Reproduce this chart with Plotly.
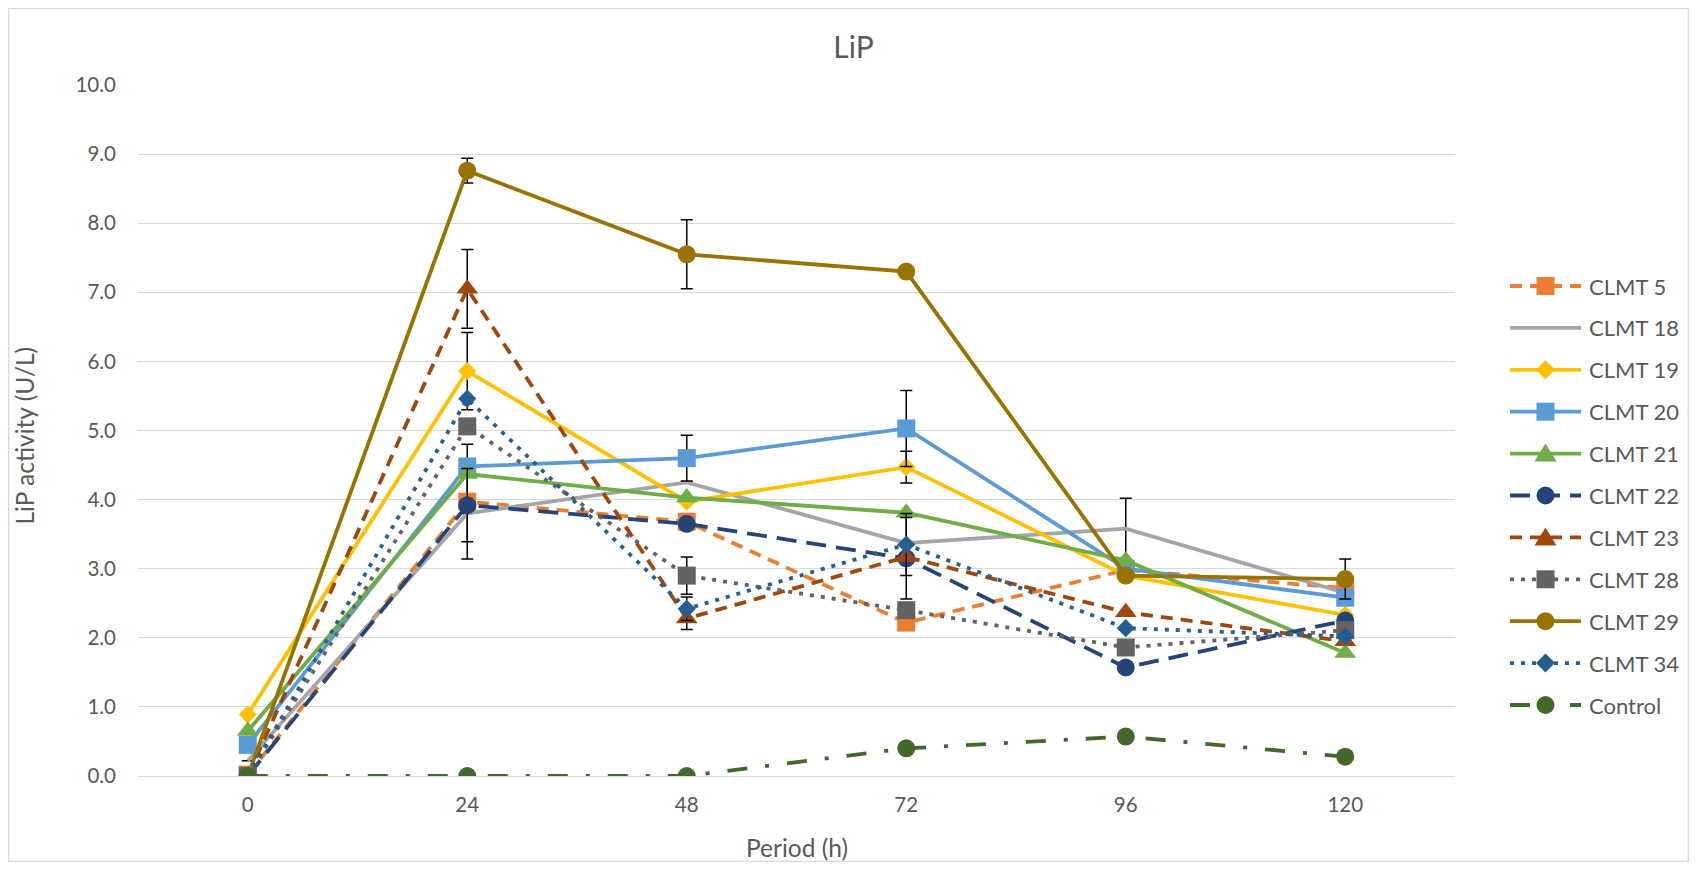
import plotly.graph_objects as go

periods = [0, 24, 48, 72, 96, 120]
period_labels = ["0", "24", "48", "72", "96", "120"]

clmt5 = [0.02, 3.97, 3.68, 2.22, 2.98, 2.72]
clmt18 = [0.22, 3.80, 4.25, 3.37, 3.58, 2.65]
clmt19 = [0.89, 5.86, 3.97, 4.47, 2.90, 2.33]
clmt20 = [0.45, 4.48, 4.60, 5.03, 3.00, 2.58]
clmt21 = [0.65, 4.37, 4.03, 3.81, 3.12, 1.78]
clmt22 = [0.00, 3.92, 3.65, 3.15, 1.57, 2.25]
clmt23 = [0.00, 7.05, 2.28, 3.17, 2.37, 1.95]
clmt28 = [0.00, 5.06, 2.90, 2.40, 1.86, 2.11]
clmt29 = [0.00, 8.76, 7.55, 7.30, 2.90, 2.85]
clmt34 = [0.00, 5.46, 2.42, 3.35, 2.14, 2.02]
control = [0.00, 0.00, 0.00, 0.40, 0.57, 0.28]

err5 = [0, 0.83, 0, 0, 0, 0]
err18 = [0, 0, 0, 0, 0.44, 0]
err19 = [0, 0.56, 0, 0.23, 0, 0]
err20 = [0, 0, 0.33, 0.55, 0, 0]
err21 = [0, 0, 0, 0, 0, 0]
err22 = [0, 0.53, 0, 0.59, 0, 0]
err23 = [0, 0.57, 0.16, 0, 0, 0]
err28 = [0, 0, 0.27, 0, 0, 0]
err29 = [0, 0.18, 0.50, 0, 0, 0.29]
err34 = [0, 0, 0.17, 0.45, 0, 0]
errc = [0, 0, 0, 0, 0, 0]

DASH = "12px,8px"
LONGDASH = "20px,10px"
DOT = "4px,7px"
LONGDASHDOT = "20px,18px,4px,18px"

series = [
    ("CLMT 5", clmt5, err5, "#ED7D31", DASH, "square"),
    ("CLMT 18", clmt18, err18, "#A5A5A5", "solid", None),
    ("CLMT 19", clmt19, err19, "#FFC000", "solid", "diamond"),
    ("CLMT 20", clmt20, err20, "#5B9BD5", "solid", "square"),
    ("CLMT 21", clmt21, err21, "#70AD47", "solid", "triangle-up"),
    ("CLMT 22", clmt22, err22, "#264478", LONGDASH, "circle"),
    ("CLMT 23", clmt23, err23, "#9E480E", DASH, "triangle-up"),
    ("CLMT 28", clmt28, err28, "#636363", DOT, "square"),
    ("CLMT 29", clmt29, err29, "#997300", "solid", "circle"),
    ("CLMT 34", clmt34, err34, "#255E91", DOT, "diamond"),
    ("Control", control, errc, "#43682B", LONGDASHDOT, "circle"),
]

MSIZE = {"circle": 18, "square": 18, "diamond": 14, "triangle-up": 19}

# page geometry (div is offset 8px by body margin)
W, H = 1681, 854
ML, MR, MT, MB = 130, 234, 77, 86
PW = W - ML - MR
PH = H - MT - MB


def px_x(div_x):
    return (div_x - ML) / PW


def px_y(div_y):
    return (H - MB - div_y) / PH


fig = go.Figure()
for i, (name, vals, err, color, dash, sym) in enumerate(series):
    mode = "lines+markers" if sym else "lines"
    fig.add_trace(go.Scatter(
        x=periods, y=vals, name=name, mode=mode,
        line=dict(color=color, width=3.8, dash=dash),
        marker=dict(symbol=sym or "circle", size=MSIZE.get(sym, 18), color=color, line=dict(width=0)),
        error_y=dict(type="data", array=err, visible=True, color="black", thickness=1.5, width=6),
        showlegend=False,
    ))

# custom legend (Excel-like long symbols)
shapes = []
annotations = []
LX0, LX1, LTX = 1502, 1573, 1579
for i, (name, vals, err, color, dash, sym) in enumerate(series):
    cy = 278 + 41.9 * i
    yp = px_y(cy)
    shapes.append(dict(type="line", xref="paper", yref="paper",
                       x0=px_x(LX0), x1=px_x(LX1), y0=yp, y1=yp,
                       line=dict(color=color, width=3.8, dash=dash)))
    cx = px_x((LX0 + LX1) / 2)
    common = dict(xref="paper", yref="paper", xsizemode="pixel", ysizemode="pixel",
                  xanchor=cx, yanchor=yp, fillcolor=color, line=dict(width=0))
    if sym == "square":
        shapes.append(dict(type="rect", x0=-9, x1=9, y0=-9, y1=9, **common))
    elif sym == "circle":
        shapes.append(dict(type="circle", x0=-9, x1=9, y0=-9, y1=9, **common))
    elif sym == "diamond":
        shapes.append(dict(type="path", path="M0,9.5 L9.5,0 L0,-9.5 L-9.5,0 Z", **common))
    elif sym == "triangle-up":
        shapes.append(dict(type="path", path="M0,10 L11,-8 L-11,-8 Z", **common))
    annotations.append(dict(text=name, xref="paper", yref="paper", x=px_x(LTX), y=yp,
                            xanchor="left", yanchor="middle", showarrow=False,
                            font=dict(size=22, color="#595959")))

# axis titles
annotations.append(dict(text="Period (h)", xref="paper", yref="paper", x=0.5, y=0,
                        xanchor="center", yanchor="middle", yshift=-71, showarrow=False,
                        font=dict(size=24.5, color="#595959")))
annotations.append(dict(text="LiP activity (U/L)", xref="paper", yref="paper", x=0, y=0.5,
                        xanchor="center", yanchor="middle", xshift=-114, yshift=-5,
                        textangle=-90, showarrow=False,
                        font=dict(size=24.5, color="#595959")))

# chart border
shapes.append(dict(type="rect", xref="paper", yref="paper",
                   x0=px_x(0.7), x1=px_x(W - 0.7), y0=px_y(H - 0.7), y1=px_y(0.7),
                   line=dict(color="#D9D9D9", width=1.3), fillcolor="rgba(0,0,0,0)", layer="below"))

fig.update_layout(
    width=W, height=H,
    margin=dict(l=ML, r=MR, t=MT, b=MB, autoexpand=False),
    paper_bgcolor="white", plot_bgcolor="white",
    font=dict(family="Lato, Liberation Sans, sans-serif", color="#595959", size=20.5),
    title=dict(text="LiP", x=845.5 / W, xanchor="center", y=1 - 39 / H, yanchor="middle",
               font=dict(size=30, color="#595959")),
    xaxis=dict(
        range=[-12, 132], tickmode="array", tickvals=periods, ticktext=period_labels,
        showgrid=False, zeroline=False, showline=False, ticks="",
        ticklabelstandoff=14, tickfont=dict(size=20.5),
    ),
    yaxis=dict(
        range=[0, 10], tickmode="linear", dtick=1, tickformat=".1f",
        showgrid=True, gridcolor="#D9D9D9", gridwidth=1.3,
        zeroline=True, zerolinecolor="#D9D9D9", zerolinewidth=1.3,
        showline=False, ticks="", ticklabelstandoff=21,
        tickfont=dict(size=20.5),
    ),
    showlegend=False,
    shapes=shapes,
    annotations=annotations,
)

fig.write_html("out.html")
